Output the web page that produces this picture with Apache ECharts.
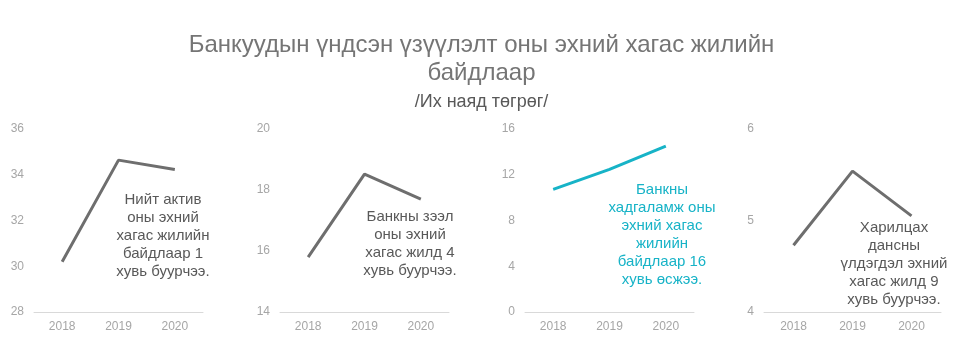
<!DOCTYPE html>
<html><head><meta charset="utf-8">
<script src="https://cdn.jsdelivr.net/npm/echarts@6/dist/echarts.min.js"></script>
<style>html,body{margin:0;padding:0;background:#fff}#c{width:963px;height:362px}</style>
</head><body><div id="c"></div>
<script>
const categories = ['2018', '2019', '2020'];
const totalAssets = [30.2, 34.64, 34.23];
const bankLoans = [15.8, 18.52, 17.70];
const bankDeposits = [10.72, 12.47, 14.51];
const currentAccounts = [4.73, 5.54, 5.05];
const yRanges = [[28, 36, 2], [14, 20, 2], [0, 16, 4], [4, 6, 1]];
const notes = [
  'Нийт актив\nоны эхний\nхагас жилийн\nбайдлаар 1\nхувь буурчээ.',
  'Банкны зээл\nоны эхний\nхагас жилд 4\nхувь буурчээ.',
  'Банкны\nхадгаламж оны\nэхний хагас\nжилийн\nбайдлаар 16\nхувь өсжээ.',
  'Харилцах\nдансны\nүлдэгдэл эхний\nхагас жилд 9\nхувь буурчээ.'
];
const seriesData = [totalAssets, bankLoans, bankDeposits, currentAccounts];

const FONT = '"Liberation Sans", Arial, sans-serif';
const GRAY = '#6e6e6e';
const CYAN = '#17b3c7';
const lineColors = [GRAY, GRAY, CYAN, GRAY];
const textColors = ['#595959', '#595959', CYAN, '#595959'];
const grids = [
  {left: 34, width: 169}, {left: 280, width: 169}, {left: 525, width: 169}, {left: 764, width: 177}
];
const notePos = [[163, 191], [410, 208], [662, 181], [894, 219]];

const chart = echarts.init(document.getElementById('c'));
const option = {
  animation: false,
  title: [{
    text: 'Банкуудын үндсэн үзүүлэлт оны эхний хагас жилийн\nбайдлаар',
    left: 'center', top: 26,
    textStyle: {fontFamily: FONT, fontSize: 24, fontWeight: 'normal', color: '#757575', lineHeight: 28}
  }, {
    text: '/Их наяд төгрөг/',
    left: 'center', top: 88,
    textStyle: {fontFamily: FONT, fontSize: 18, fontWeight: 'normal', color: '#595959'}
  }],
  grid: grids.map(g => ({left: g.left, width: g.width, top: 129, bottom: 50})),
  xAxis: grids.map((g, i) => ({
    type: 'category', gridIndex: i, data: categories, boundaryGap: true,
    axisLine: {lineStyle: {color: '#d9d9d9', width: 1}},
    axisTick: {show: false},
    axisLabel: {color: '#a6a6a6', fontFamily: FONT, fontSize: 12, margin: 9}
  })),
  yAxis: yRanges.map((r, i) => ({
    type: 'value', gridIndex: i, min: r[0], max: r[1], interval: r[2],
    splitLine: {show: false}, axisLine: {show: false}, axisTick: {show: false},
    axisLabel: {color: '#a6a6a6', fontFamily: FONT, fontSize: 12, margin: 10}
  })),
  series: seriesData.map((d, i) => ({
    type: 'line', xAxisIndex: i, yAxisIndex: i, data: d,
    symbol: 'none', lineStyle: {color: lineColors[i], width: 3}
  })),
  graphic: notes.map((t, i) => ({
    type: 'text', x: notePos[i][0], y: notePos[i][1],
    style: {text: t, fill: textColors[i], font: '15px ' + FONT, align: 'center', verticalAlign: 'top', lineHeight: 18}
  }))
};
chart.setOption(option);
</script></body></html>
